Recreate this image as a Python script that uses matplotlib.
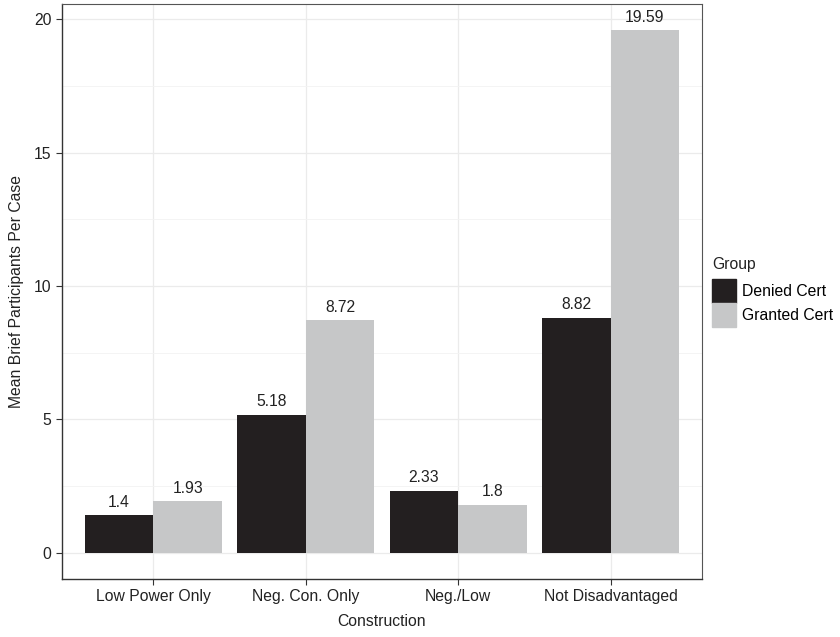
import numpy as np
import matplotlib.pyplot as plt
from matplotlib.patches import Patch

plt.rcParams['font.family'] = ['Liberation Sans', 'DejaVu Sans']

constructions = ['Low Power Only', 'Neg. Con. Only', 'Neg./Low', 'Not Disadvantaged']
denied = [1.4, 5.18, 2.33, 8.82]
granted = [1.93, 8.72, 1.8, 19.59]
denied_lbl = ['1.4', '5.18', '2.33', '8.82']
granted_lbl = ['1.93', '8.72', '1.8', '19.59']

c_denied = '#231f20'
c_granted = '#c6c7c8'
txt = '#222222'
fs = 11.3

fig = plt.figure(figsize=(8.4, 6.37), dpi=100)
ax = fig.add_axes([62/840, 58/637, 640/840, 575/637])

x = np.arange(1, len(constructions) + 1)
w = 0.45
ax.bar(x - w/2, denied, width=w, color=c_denied, zorder=3)
ax.bar(x + w/2, granted, width=w, color=c_granted, zorder=3)

for xi, v, s in zip(x - w/2, denied, denied_lbl):
    ax.text(xi, v + 0.2, s, ha='center', va='bottom', fontsize=fs, color=txt, zorder=4)
for xi, v, s in zip(x + w/2, granted, granted_lbl):
    ax.text(xi, v + 0.2, s, ha='center', va='bottom', fontsize=fs, color=txt, zorder=4)

ax.set_xlim(0.4, 4.6)
ax.set_ylim(-0.98, 20.57)
ax.set_xticks(x)
ax.set_xticklabels(constructions)
ax.set_yticks([0, 5, 10, 15, 20])
ax.set_yticks([2.5, 7.5, 12.5, 17.5], minor=True)
ax.tick_params(axis='both', labelsize=fs, labelcolor=txt, color='#333333', length=4)
ax.tick_params(axis='y', which='minor', length=0)
ax.grid(True, which='major', color='#ebebeb', lw=0.9, zorder=0)
ax.grid(True, which='minor', axis='y', color='#f3f3f3', lw=0.6, zorder=0)
ax.set_axisbelow(True)

for s in ['top', 'right']:
    ax.spines[s].set_color('#555555')
    ax.spines[s].set_linewidth(0.8)
for s in ['left', 'bottom']:
    ax.spines[s].set_color('#333333')
    ax.spines[s].set_linewidth(1.0)

ax.set_xlabel('Construction', fontsize=fs, color=txt, labelpad=7)
ax.set_ylabel('Mean Brief Participants Per Case', fontsize=fs, color=txt, labelpad=7)

# legend: title drawn separately to get the ggplot-like gap above the keys
fig.text(712/840, 1 - 264/637, 'Group', fontsize=fs, color=txt, ha='left', va='center')
handles = [Patch(color=c_denied, label='Denied Cert'),
           Patch(color=c_granted, label='Granted Cert')]
fig.legend(handles=handles, loc='upper left',
           bbox_to_anchor=(712/840, 1 - 279/637), frameon=False,
           fontsize=fs, handlelength=1.5, handleheight=1.98,
           handletextpad=0.4, labelspacing=0.0, borderaxespad=0, borderpad=0)

fig.savefig('out.png', dpi=100)
